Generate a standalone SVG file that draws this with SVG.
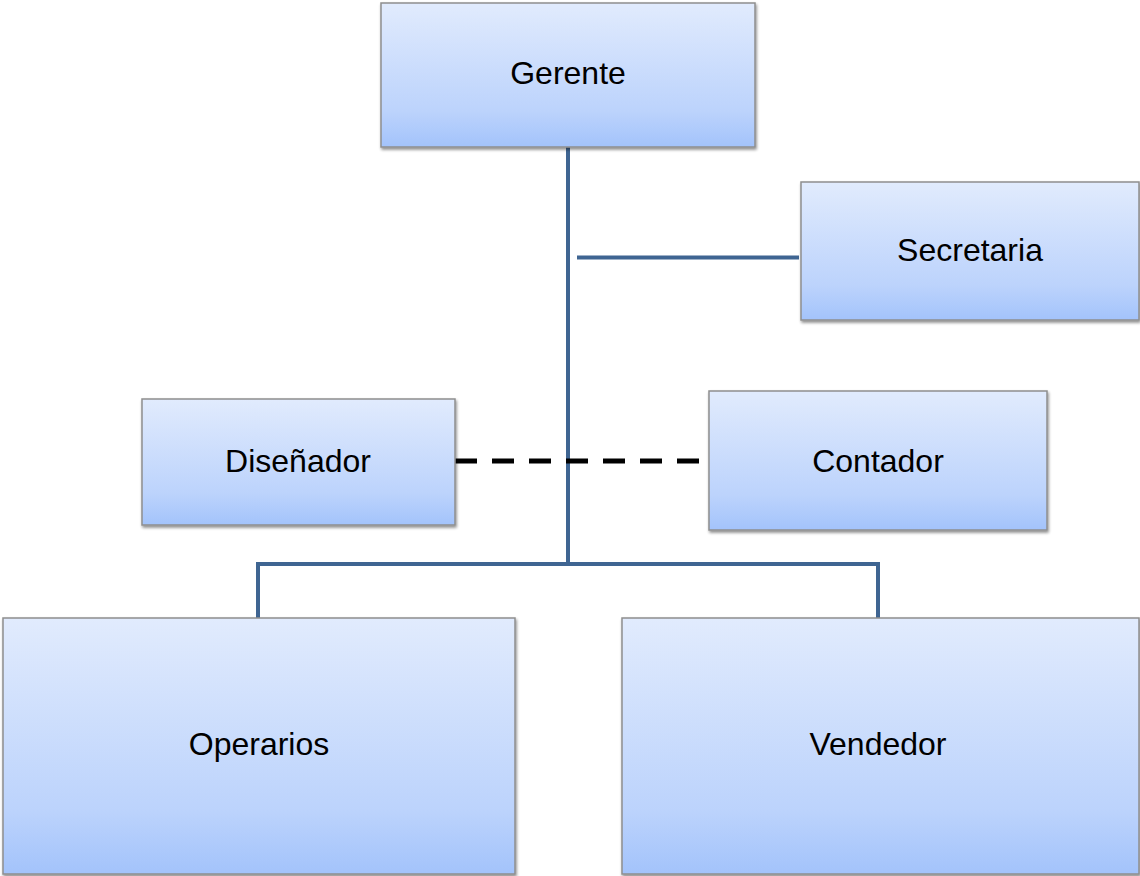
<svg xmlns="http://www.w3.org/2000/svg" width="1140" height="876" viewBox="0 0 1140 876">
<defs>
<linearGradient id="g" x1="0" y1="0" x2="0" y2="1">
<stop offset="0" stop-color="#E1EBFD"/>
<stop offset="0.75" stop-color="#BCD3FC"/>
<stop offset="1" stop-color="#A3C3FB"/>
</linearGradient>
<filter id="sh" x="-5%" y="-5%" width="110%" height="115%">
<feGaussianBlur in="SourceAlpha" stdDeviation="1.5"/>
<feOffset dx="1" dy="2" result="b"/>
<feComponentTransfer><feFuncA type="linear" slope="0.45"/></feComponentTransfer>
<feMerge><feMergeNode/><feMergeNode in="SourceGraphic"/></feMerge>
</filter>
</defs>
<style>
.box{fill:url(#g);stroke:#8E8E8E;stroke-width:1.5;filter:url(#sh)}
.lbl{font-family:"Liberation Sans",Arial,sans-serif;font-size:32px;fill:#000;text-anchor:middle}
.ln{stroke:#3F6592;fill:none;stroke-width:4}
</style>
<rect width="1140" height="876" fill="#fff"/>
<g id="connectors">
<line class="ln" x1="568" y1="147" x2="568" y2="564"/>
<line class="ln" x1="577" y1="257.5" x2="799" y2="257.5" stroke-width="3"/>
<polyline class="ln" points="258,618 258,564 878,564 878,618"/>
<line x1="455" y1="461" x2="709" y2="461" stroke="#000" stroke-width="5" stroke-dasharray="22,15"/>
</g>
<g id="gerente"><rect class="box" x="381" y="3" width="374" height="144"/><text class="lbl" x="568" y="84">Gerente</text></g>
<g id="secretaria"><rect class="box" x="801" y="182" width="338" height="138"/><text class="lbl" x="970" y="261">Secretaria</text></g>
<g id="disenador"><rect class="box" x="142" y="399" width="313" height="126"/><text class="lbl" x="298" y="472">Diseñador</text></g>
<g id="contador"><rect class="box" x="709" y="391" width="338" height="139"/><text class="lbl" x="878" y="472">Contador</text></g>
<g id="operarios"><rect class="box" x="3" y="618" width="512" height="256"/><text class="lbl" x="259" y="755">Operarios</text></g>
<g id="vendedor"><rect class="box" x="622" y="618" width="517" height="256"/><text class="lbl" x="878" y="755">Vendedor</text></g>
</svg>
